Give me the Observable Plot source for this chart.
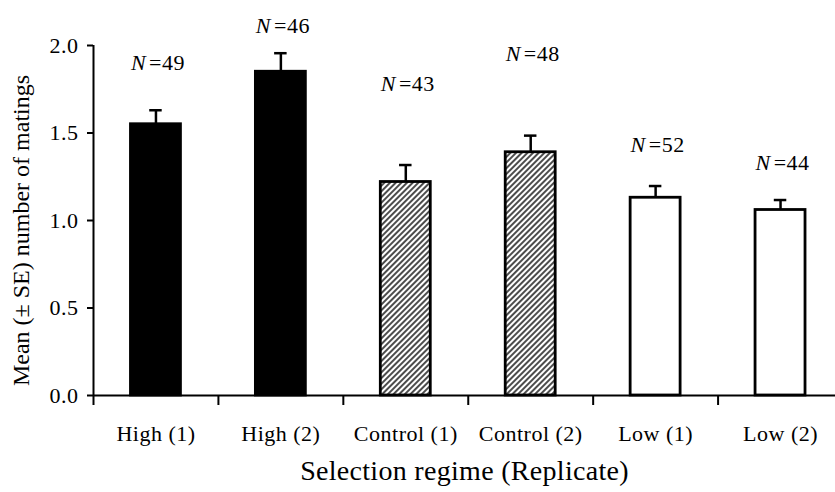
<!DOCTYPE html>
<html>
<head>
<meta charset="utf-8">
<script src="https://cdn.jsdelivr.net/npm/d3@7"></script>
<script src="https://cdn.jsdelivr.net/npm/@observablehq/plot@0.6"></script>
<style>
  html, body { margin: 0; padding: 0; background: #fff; }
  #chart svg { display: block; }
  #chart svg, #chart svg text { font-family: "Liberation Serif", "Times New Roman", serif !important; }
  #chart svg text { letter-spacing: 0.5px; }
  #chart svg g.xtitle text { letter-spacing: 0.3px; }
  #chart svg g.ytitle text { letter-spacing: 0px; }
</style>
</head>
<body>
<div id="chart"></div>
<script>
// ---- data ----
const categories = ["High (1)", "High (2)", "Control (1)", "Control (2)", "Low (1)", "Low (2)"];
const regimes = ["High", "High", "Control", "Control", "Low", "Low"];
const means = [1.55, 1.85, 1.22, 1.39, 1.13, 1.06];
const ses = [0.08, 0.106, 0.097, 0.095, 0.067, 0.057];
const sampleSizes = [49, 46, 43, 48, 52, 44];
const labelLevels = [1.90, 2.11, 1.78, 1.95, 1.43, 1.33];
const yTicks = [0, 0.5, 1.0, 1.5, 2.0];
const xTitle = "Selection regime (Replicate)";
const yTitle = "Mean (\u00B1 SE) number of matings";

const data = categories.map((c, i) => ({
  i, c, regime: regimes[i], mean: means[i], se: ses[i], n: sampleSizes[i], ly: labelLevels[i]
}));

const xDomain = [-0.5, categories.length - 0.56];
const yDomain = [0, 2];
const boundaries = d3.range(-0.5, categories.length - 1, 1);
const half = 0.2, cap = 0.05;
const font = 22;

const fillFor = {High: "black", Control: "url(#hatch)", Low: "white"};

const plot = Plot.plot({
  width: 835,
  height: 492,
  marginTop: 45,
  marginBottom: 97,
  marginLeft: 93,
  marginRight: 0,
  style: {color: "black", background: "white", overflow: "visible"},
  x: {type: "linear", domain: xDomain, axis: null},
  y: {domain: yDomain, axis: null},
  marks: [
    // error bars
    Plot.ruleX(data, {x: "i", y1: "mean", y2: d => d.mean + d.se, stroke: "black", strokeWidth: 2.5}),
    Plot.ruleY(data, {x1: d => d.i - cap, x2: d => d.i + cap, y: d => d.mean + d.se, stroke: "black", strokeWidth: 2.5}),
    // bars per regime
    ...["High", "Control", "Low"].map(r =>
      Plot.rectY(data.filter(d => d.regime === r), {
        x1: d => d.i - half, x2: d => d.i + half, y1: 0, y2: "mean",
        fill: fillFor[r], stroke: "black", strokeWidth: 2.8
      })
    ),
    // axes lines
    Plot.ruleY([0], {stroke: "black", strokeWidth: 2}),
    Plot.ruleX([xDomain[0]], {y1: yDomain[0], y2: yDomain[1], stroke: "black", strokeWidth: 2}),
    Plot.axisY({ticks: yTicks, tickFormat: d3.format(".1f"), tickSize: 6, tickPadding: 9, fontSize: font, strokeWidth: 2, label: null}),
    Plot.axisX({ticks: boundaries, tickSize: 10, tickFormat: () => "", strokeWidth: 2, label: null}),
    Plot.axisX({ticks: d3.range(categories.length), tickSize: 0, tickPadding: 30, tickFormat: i => categories[i], fontSize: font, label: null}),
    // N labels
    Plot.text(data, {x: "i", y: "ly", text: d => `N=${d.n}`, fontSize: font, dx: 2, className: "nlab"}),
    // titles
    Plot.text([xTitle], {text: d => d, frameAnchor: "bottom", dy: 84, fontSize: 28, className: "xtitle"}),
    Plot.text([yTitle], {text: d => d, x: () => xDomain[0], y: () => d3.mean(yDomain), rotate: -90, dx: -72, dy: 10, fontSize: 24, className: "ytitle"})
  ]
});

// hatch pattern
const svg = d3.select(plot);
const defs = svg.insert("defs", ":first-child");
const pat = defs.append("pattern")
  .attr("id", "hatch")
  .attr("patternUnits", "userSpaceOnUse")
  .attr("width", 4).attr("height", 4)
  .attr("patternTransform", "rotate(45)");
pat.append("rect").attr("width", 4).attr("height", 4).attr("fill", "white");
pat.append("line").attr("x1", 1).attr("y1", 0).attr("x2", 1).attr("y2", 4)
  .attr("stroke", "black").attr("stroke-width", 1.4);

// italic N
svg.selectAll("g.nlab text").each(function () {
  const t = d3.select(this);
  const rest = t.text().replace(/^N/, "");
  t.text(null);
  t.append("tspan").attr("font-style", "italic").text("N");
  t.append("tspan").attr("dx", 3).text(rest);
});

document.getElementById("chart").appendChild(plot);
</script>
</body>
</html>
